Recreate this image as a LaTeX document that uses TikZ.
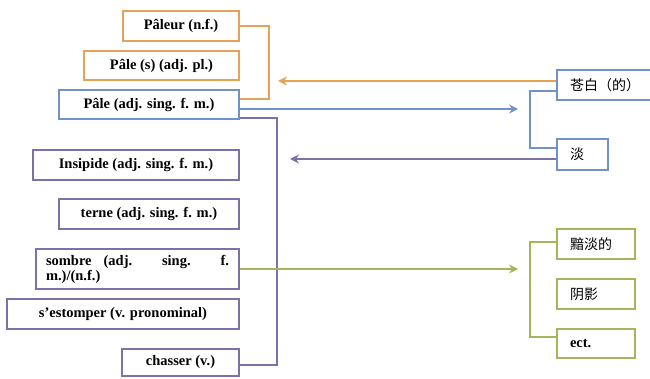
\documentclass[tikz,border=0pt]{standalone}
\usepackage{fontspec}
\setmainfont{Liberation Serif}
\newfontfamily\cjk{Noto Sans CJK SC}
\usetikzlibrary{arrows.meta}
\definecolor{naranja}{RGB}{230,163,88}
\definecolor{azul}{RGB}{112,146,198}
\definecolor{morado}{RGB}{128,112,168}
\definecolor{verde}{RGB}{163,182,92}

\begin{document}
\begin{tikzpicture}[x=1pt,y=-1pt,line width=2pt,>={Stealth[length=9pt,width=9pt]},
  box/.style={draw=#1,line width=1.5pt,fill=white,font=\bfseries\fontsize{14.5}{15}\selectfont,inner sep=0pt,minimum height=30pt},
  zbox/.style={box=#1,align=left,font=\cjk\fontsize{14}{16}\selectfont}]
  \useasboundingbox (0,0) rectangle (650,379);
  % ============ mots francais (gauche) ============
  \node[box=naranja,minimum width=116pt] (pleur) at (181,26){Pâleur (n.f.)};
  \node[box=naranja,minimum width=155pt,minimum height=29pt] (pales) at (161.5,65.5){Pâle (s) (adj. pl.)};
  \node[box=azul,minimum width=180pt,minimum height=29pt] (pale) at (149,104.5){Pâle (adj. sing. f. m.)};
  \node[box=morado,minimum width=206pt] (insip) at (136,165){Insipide (adj. sing. f. m.)};
  \node[box=morado,minimum width=180pt] (terne) at (149,214){terne (adj. sing. f. m.)};
  \node[box=morado,minimum width=203pt,minimum height=40pt,text width=183pt,align=justify] (sombre) at (137.5,269){sombre (adj. sing. f.\linebreak m.)/(n.f.)};
  \node[box=morado,minimum width=232pt] (estomp) at (123,314){s’estomper (v. pronominal)};
  \node[box=morado,minimum width=117pt,minimum height=27pt] (chasser) at (180.5,362.5){chasser (v.)};
  % ============ mots chinois (droite) ============
  \node[zbox=azul,minimum width=103pt,text width=77pt] (cangbai) at (608.5,85){苍白（的）};
  \node[zbox=azul,minimum width=51pt,minimum height=31pt,text width=25pt] (dan) at (582.5,154.5){淡};
  \node[zbox=verde,minimum width=78pt,text width=52pt] (andan) at (596,244){黯淡的};
  \node[zbox=verde,minimum width=78pt,text width=52pt] (yinying) at (596,294){阴影};
  \node[box=verde,minimum width=78pt,minimum height=29pt,text width=52pt,align=left] (ect) at (596,343.5){ect.};
  % ---------- bouts libres des fleches ----------
  \coordinate (tipO) at (278,81);
  \coordinate (tipB) at (518,109);
  \coordinate (tipM) at (290,159);
  \coordinate (tipV) at (518,269);
  % ---------- crochets ----------
  \draw[naranja] (pleur.east) -- ++(29,0) |- ([yshift=5.5pt]pale.east);
  \draw[morado] (pale.south east) ++(0,-2) -- ++(37,0) |- ([yshift=-2.5pt]chasser.east);
  \draw[azul] ([yshift=-6pt]cangbai.west) -- ++(-26,0) |- ([yshift=6.5pt]dan.west);
  \draw[verde] ([yshift=2pt]andan.west) -- ++(-26,0) |- ([yshift=6.5pt]ect.west);
  % ---------- fleches ----------
  \draw[->,naranja] ([yshift=4pt]cangbai.west) -- (tipO);
  \draw[->,azul] ([yshift=-4.5pt]pale.east) -- (tipB);
  \draw[->,morado] ([yshift=-4.5pt]dan.west) -- (tipM);
  \draw[->,verde] (sombre.east) -- (tipV);
\end{tikzpicture}
\end{document}
